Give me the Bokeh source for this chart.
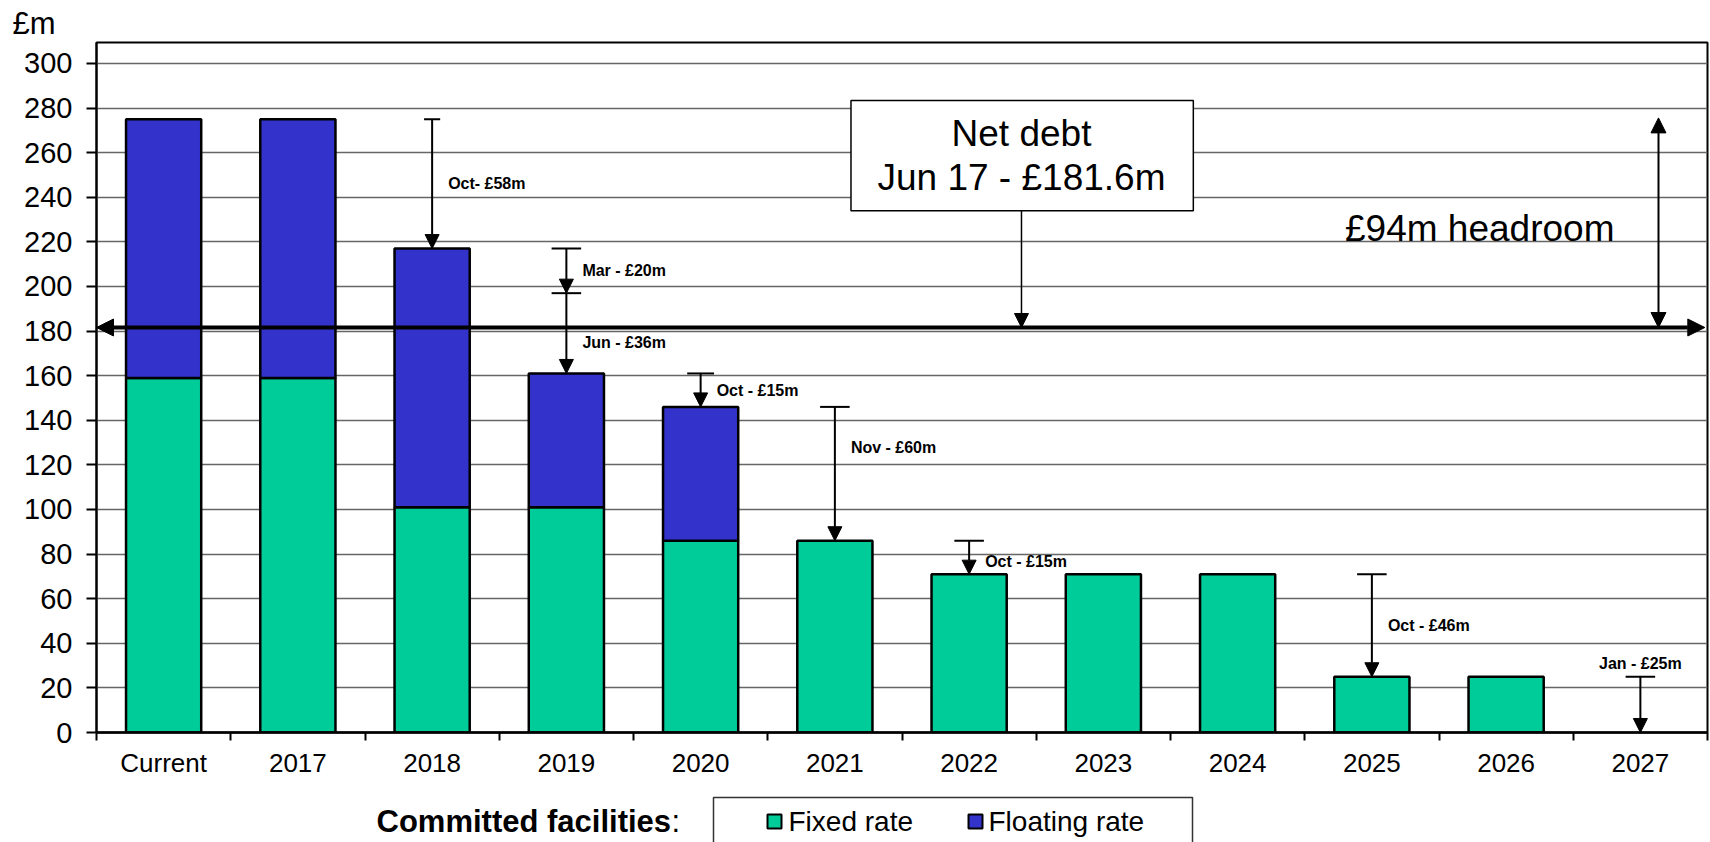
from bokeh.plotting import figure
from bokeh.models import Range1d, FixedTicker, ColumnDataSource, Arrow, NormalHead
from bokeh.layouts import column
from bokeh.core.properties import value
from bokeh.embed import file_html
from bokeh.resources import INLINE
import numpy as np

# ---- data -------------------------------------------------------------
categories = ["Current", "2017", "2018", "2019", "2020", "2021",
              "2022", "2023", "2024", "2025", "2026", "2027"]
fixed_rate = [159, 159, 101, 101, 86, 86, 71, 71, 71, 25, 25, 0]
floating_rate = [116, 116, 116, 60, 60, 0, 0, 0, 0, 0, 0, 0]
y_ticks = list(range(0, 301, 20))

# facility maturities: year, label, amount (£m), in date order
maturity_year = ["2018", "2019", "2019", "2020", "2021", "2022", "2025", "2027"]
maturity_label = ["Oct- £58m", "Mar - £20m", "Jun - £36m", "Oct - £15m",
                  "Nov - £60m", "Oct - £15m", "Oct - £46m", "Jan - £25m"]
maturity_amount = [58, 20, 36, 15, 60, 15, 46, 25]

net_debt = 181.6
headroom = 94

series_names = ["Fixed rate", "Floating rate"]

# ---- styling ----------------------------------------------------------
FONT = "Liberation Sans"
GREEN = "#00CC99"
BLUE = "#3333CC"
W = 1710
LEFT, RIGHT = 96, 3

# ---- main chart -------------------------------------------------------
n = len(categories)
centers = np.arange(n) + 0.5
cat_x = dict(zip(categories, centers))

p = figure(width=W, height=795, x_range=Range1d(0, n), y_range=Range1d(0, 309.4),
           output_backend="svg", toolbar_location=None,
           min_border_left=LEFT, min_border_right=RIGHT, min_border_top=42,
           min_border_bottom=63)
p.background_fill_color = "white"
p.border_fill_color = "white"
p.outline_line_color = "black"
p.outline_line_width = 2

# unit caption in the top-left corner
p.title.text = "£m"
p.title.align = "left"
p.title.offset = -84
p.title.standoff = 3
p.title.text_font = FONT
p.title.text_font_size = "31px"
p.title.text_font_style = "normal"
p.title.text_color = "black"

p.yaxis.ticker = FixedTicker(ticks=y_ticks)
p.yaxis.major_label_text_font = FONT
p.yaxis.major_label_text_font_size = "29px"
p.yaxis.major_label_text_color = "black"
p.yaxis.axis_line_width = 2
p.yaxis.major_tick_line_width = 2
p.yaxis.major_tick_out = 10
p.yaxis.major_tick_in = 0
p.yaxis.minor_tick_line_color = None
p.yaxis.major_label_standoff = 14

# labels at the column centres, tick marks on the column boundaries
p.xaxis.ticker = FixedTicker(ticks=list(centers), minor_ticks=list(range(n + 1)))
p.xaxis.major_label_overrides = {float(c): lab for c, lab in zip(centers, categories)}
p.xaxis.major_label_text_font = FONT
p.xaxis.major_label_text_font_size = "26px"
p.xaxis.major_label_text_color = "black"
p.xaxis.major_tick_line_color = None
p.xaxis.major_tick_out = 0
p.xaxis.major_tick_in = 0
p.xaxis.minor_tick_line_color = "black"
p.xaxis.minor_tick_line_width = 2
p.xaxis.minor_tick_out = 8
p.xaxis.minor_tick_in = 0
p.xaxis.axis_line_width = 2.5
p.xaxis.major_label_standoff = 7

p.xgrid.grid_line_color = None
p.ygrid.ticker = FixedTicker(ticks=y_ticks)
p.ygrid.grid_line_color = "#666666"
p.ygrid.grid_line_width = 1.5

# stacked bars
fixed_arr = np.array(fixed_rate, dtype=float)
float_arr = np.array(floating_rate, dtype=float)
keep_fixed = fixed_arr > 0
keep_float = float_arr > 0
p.vbar(x=centers[keep_fixed], width=0.56, bottom=0, top=fixed_arr[keep_fixed],
       fill_color=GREEN, line_color="black", line_width=2.5)
p.vbar(x=centers[keep_float], width=0.56, bottom=fixed_arr[keep_float],
       top=(fixed_arr + float_arr)[keep_float],
       fill_color=BLUE, line_color="black", line_width=2.5)

# maturity arrows, stepping down from the current facility total
running = fixed_arr[0] + float_arr[0]
starts, ends = [], []
for amt in maturity_amount:
    starts.append(running)
    running -= amt
    ends.append(running)
mx = np.array([cat_x[y] for y in maturity_year])
starts = np.array(starts)
ends = np.array(ends)

cap_half = np.array([0.06, 0.11, 0.11, 0.1, 0.11, 0.11, 0.11, 0.11])
p.segment(x0=mx - cap_half, x1=mx + cap_half, y0=starts, y1=starts,
          line_color="black", line_width=2)
arrow_src = ColumnDataSource(dict(x0=mx, y0=starts, x1=mx, y1=ends))
p.add_layout(Arrow(end=NormalHead(size=14, fill_color="black", line_color="black"),
                   x_start="x0", y_start="y0", x_end="x1", y_end="y1",
                   source=arrow_src, line_color="black", line_width=2))

# labels beside each arrow; the last one sits above its cap
label_dy = np.array([0, 0, -4, 0, 12, -2, 0])
side = slice(0, len(maturity_label) - 1)
p.text(x=mx[side], y=(starts[side] + ends[side]) / 2 + label_dy,
       text=maturity_label[:-1], x_offset=16,
       text_font=value(FONT), text_font_size="16px", text_font_style="bold",
       text_align="left", text_baseline="middle", text_color="black")
p.text(x=mx[-1:], y=starts[-1:] + 6, text=maturity_label[-1:],
       text_font=value(FONT), text_font_size="16px", text_font_style="bold",
       text_align="center", text_baseline="middle", text_color="black")

# net debt line and headroom
p.add_layout(Arrow(start=NormalHead(size=17, fill_color="black", line_color="black"),
                   end=NormalHead(size=17, fill_color="black", line_color="black"),
                   x_start=0.0, y_start=net_debt, x_end=n - 0.02, y_end=net_debt,
                   line_color="black", line_width=4))

p.add_layout(Arrow(start=NormalHead(size=15, fill_color="black", line_color="black"),
                   end=NormalHead(size=15, fill_color="black", line_color="black"),
                   x_start=11.635, y_start=net_debt, x_end=11.635, y_end=net_debt + headroom,
                   line_color="black", line_width=2))
p.text(x=[9.3], y=[226], text=[f"£{headroom}m headroom"],
       text_font=value(FONT), text_font_size="37px",
       text_align="left", text_baseline="middle", text_color="black")

# callout box for net debt
p.quad(left=5.62, right=8.17, bottom=234, top=283.4,
       fill_color="white", line_color="black", line_width=1.5)
p.text(x=[6.89, 6.89], y=[268.4, 249],
       text=["Net debt", f"Jun 17 - £{net_debt}m"],
       text_font=value(FONT), text_font_size="37px",
       text_align="center", text_baseline="middle", text_color="black")
p.add_layout(Arrow(end=NormalHead(size=14, fill_color="black", line_color="black"),
                   x_start=6.89, y_start=234, x_end=6.89, y_end=net_debt,
                   line_color="black", line_width=1.5))

# ---- legend strip (data units = page pixels) --------------------------
bot = figure(width=W, height=60, x_range=Range1d(LEFT, W - RIGHT), y_range=Range1d(0, 60),
             output_backend="svg", toolbar_location=None,
             min_border_left=LEFT, min_border_right=RIGHT,
             min_border_top=0, min_border_bottom=0)
bot.axis.visible = False
bot.grid.grid_line_color = None
bot.outline_line_color = None
bot.background_fill_color = "white"
bot.border_fill_color = "white"

bot.text(x=[376], y=[34], text=["Committed facilities"], text_font=value(FONT),
         text_font_size="31px", text_font_style="bold",
         text_align="left", text_baseline="middle", text_color="black")
bot.text(x=[671], y=[34], text=[":"], text_font=value(FONT),
         text_font_size="31px", text_align="left", text_baseline="middle",
         text_color="black")
bot.quad(left=713, right=1192, top=58, bottom=-5,
         fill_color="white", line_color="#333333", line_width=1.5)
bot.rect(x=[774, 975], y=[34, 34], width=14, height=14,
         fill_color=[GREEN, BLUE], line_color="black", line_width=2)
bot.text(x=[788, 988], y=[34, 34], text=series_names, text_font=value(FONT),
         text_font_size="28px", text_align="left", text_baseline="middle",
         text_color="black")

layout = column(p, bot, spacing=0)
open("out.html", "w").write(file_html(layout, INLINE))
